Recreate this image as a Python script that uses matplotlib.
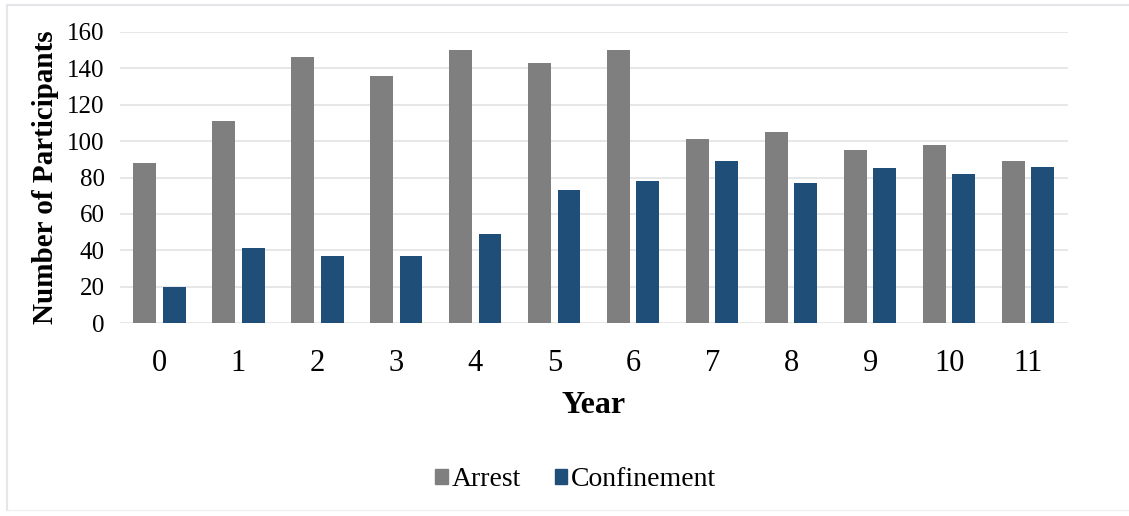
import numpy as np
import matplotlib.pyplot as plt
from matplotlib.lines import Line2D
from matplotlib.patches import Patch

years = ['0', '1', '2', '3', '4', '5', '6', '7', '8', '9', '10', '11']
arrest = [88, 111, 146, 136, 150, 143, 150, 101, 105, 95, 98, 89]
confinement = [20, 41, 37, 37, 49, 73, 78, 89, 77, 85, 82, 86]

grey = '#7f7f7f'
blue = '#1f4e79'

plt.rcParams['font.family'] = ['Liberation Serif', 'DejaVu Serif']

fig = plt.figure(figsize=(11.29, 5.16), dpi=100)
ax = fig.add_axes([0.1063, 0.374, 0.8394, 0.564])

x = np.arange(len(years))
w = 0.29
ax.bar(x - 0.185, arrest, w, color=grey, zorder=3)
ax.bar(x + 0.185, confinement, w, color=blue, zorder=3)

ax.set_xlim(-0.5, len(years) - 0.5)
ax.set_ylim(0, 160)
ax.set_yticks(range(0, 161, 20))
ax.set_xticks(x)
ax.set_xticklabels(years)
ax.grid(axis='y', color='#e3e3e3', linewidth=1.2, zorder=0)
for s in ax.spines.values():
    s.set_visible(False)
ax.tick_params(axis='both', length=0)
ax.tick_params(axis='y', labelsize=18, pad=11)
ax.tick_params(axis='x', labelsize=22, pad=19)

ax.set_ylabel('Number of Participants', fontsize=21, fontweight='bold', labelpad=6)
ax.set_xlabel('Year', fontsize=23, fontweight='bold', labelpad=9)

handles = [Patch(color=grey), Patch(color=blue)]
fig.legend(handles, ['Arrest', 'Confinement'], loc='center', bbox_to_anchor=(0.51, 0.07),
           ncol=2, frameon=False, fontsize=20, handlelength=0.45, handleheight=0.45,
           handletextpad=0.15, columnspacing=1.2)

# thin frame around the chart area
fig.add_artist(Line2D([7 / 1129, 1], [1 - 5 / 516, 1 - 5 / 516], color='#e6e6ea', lw=1.5))
fig.add_artist(Line2D([7 / 1129, 7 / 1129], [1 - 5 / 516, 1 - 510 / 516], color='#e6e6ea', lw=1.5))
fig.add_artist(Line2D([7 / 1129, 1], [1 - 510 / 516, 1 - 510 / 516], color='#f0f0f0', lw=1))

fig.savefig('out.png', dpi=100)
